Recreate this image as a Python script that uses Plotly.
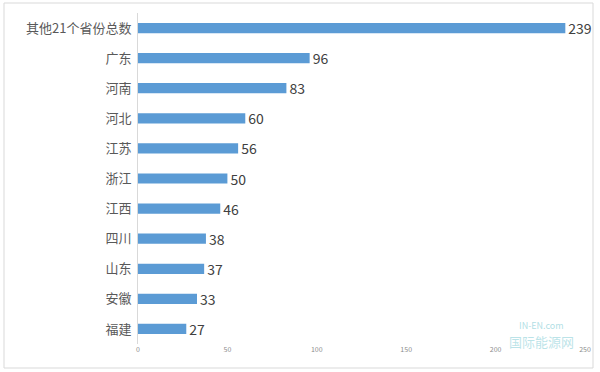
import plotly.graph_objects as go

categories = ["其他21个省份总数", "广东", "河南", "河北", "江苏", "浙江", "江西", "四川", "山东", "安徽", "福建"]
values = [239, 96, 83, 60, 56, 50, 46, 38, 37, 33, 27]
x_ticks = [0, 50, 100, 150, 200, 250]

W, H = 600, 372
L, R, T, B = 138, 15, 13, 28
pw, ph = W - L - R, H - T - B

def px_x(p):
    return (p - L) / pw

def px_y(p):
    return (H - B - p) / ph

fig = go.Figure(go.Bar(
    y=categories, x=values, orientation="h",
    marker=dict(color="#5B9BD5", line=dict(width=0)),
    text=[str(v) for v in values], textposition="outside",
    constraintext="none",
    textfont=dict(size=14, color="#404040"),
    cliponaxis=False, width=0.34,
))

fig.update_layout(
    width=W, height=H,
    margin=dict(l=L, r=R, t=T, b=B, autoexpand=False),
    paper_bgcolor="white", plot_bgcolor="white",
    font=dict(family="Noto Sans CJK SC, Microsoft YaHei, sans-serif"),
    showlegend=False,
    xaxis=dict(range=[0, 250], tickvals=x_ticks, showgrid=False, zeroline=False,
               showline=False, ticks="", automargin=False,
               tickfont=dict(size=7, color="#8C8C8C")),
    yaxis=dict(autorange="reversed", showgrid=False, zeroline=False, automargin=False,
               showline=True, linecolor="#D9D9D9", linewidth=1, ticks="",
               ticksuffix=" ", tickfont=dict(size=13, color="#595959")),
    shapes=[dict(type="rect", xref="paper", yref="paper",
                 x0=px_x(4), x1=px_x(593), y0=px_y(368), y1=px_y(3),
                 line=dict(color="#D9D9D9", width=1), fillcolor="rgba(0,0,0,0)")],
    annotations=[
        dict(xref="paper", yref="paper", x=px_x(541), y=px_y(334), text="IN-EN.com",
             showarrow=False, font=dict(size=9, color="rgba(120,200,210,0.6)"), xanchor="center"),
        dict(xref="paper", yref="paper", x=px_x(541), y=px_y(353), text="国际能源网",
             showarrow=False, font=dict(size=13, color="rgba(120,200,210,0.5)"), xanchor="center"),
    ],
)

fig.write_html("out.html", config={"displayModeBar": False},
               post_script="document.body.style.margin='0';document.body.style.overflow='hidden';")
